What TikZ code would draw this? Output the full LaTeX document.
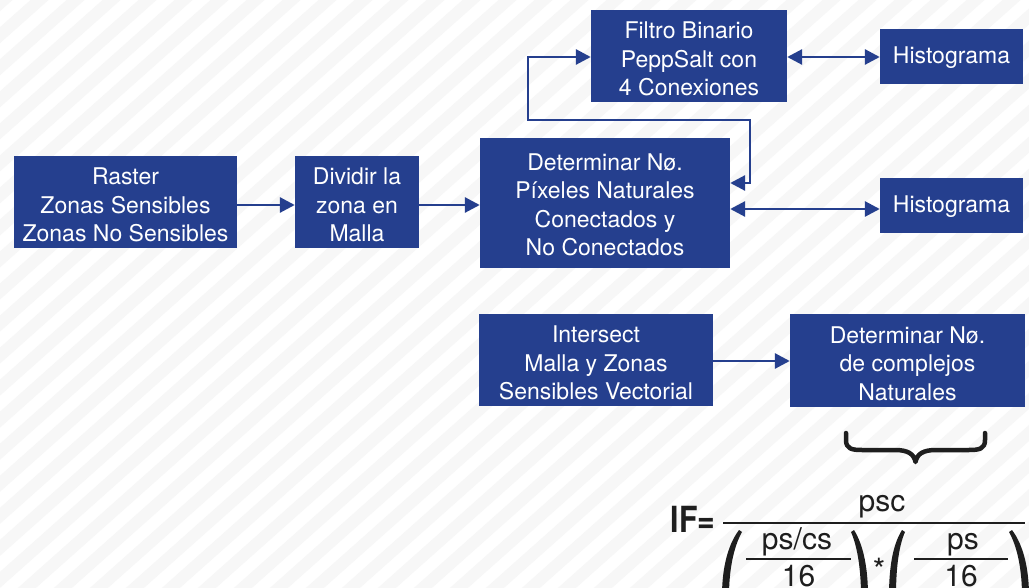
\documentclass[tikz,border=0pt]{standalone}
\usepackage{fontspec}
\setmainfont{TeX Gyre Heros}
\usetikzlibrary{arrows.meta}
\definecolor{boxblue}{HTML}{253F8E}
\definecolor{stripegray}{HTML}{F7F7F7}
\definecolor{ink}{HTML}{1E1E1E}
\begin{document}
\begin{tikzpicture}[x=1pt,y=-1pt,
  box/.style={fill=boxblue, inner sep=0pt},
  boxtext/.style={text=white, inner sep=0pt, align=center,
    font=\fontsize{23}{28.5}\selectfont},
  conn/.style={draw=boxblue, line width=2.9pt},
  onetip/.style={-{Triangle[length=15pt,width=15pt]}},
  twotip/.style={{Triangle[length=15pt,width=15pt]}-{Triangle[length=15pt,width=15pt]}},
  ftext/.style={text=ink, inner sep=0pt, anchor=base, font=\fontsize{30}{30}\selectfont},
  fbar/.style={draw=ink, line width=2.6pt},
  stripe/.style={draw=stripegray, line width=12pt}]
\useasboundingbox (0,0) rectangle (1029,588);
\clip (0,0) rectangle (1029,588);
\fill[white] (0,0) rectangle (1029,588);
\foreach \i in {-2,...,60} \draw[stripe] (26+\i*36,-20) -- ++(-1100,979);

% boxes
\node[box, minimum width=223pt, minimum height=92pt] (raster) at (125.5,202) {};
\node[box, minimum width=124pt, minimum height=92pt] (dividir) at (357,202) {};
\node[box, minimum width=250pt, minimum height=130pt] (det) at (605,203) {};
\node[box, minimum width=196pt, minimum height=92pt] (filtro) at (689,56) {};
\node[box, minimum width=143pt, minimum height=55pt] (histA) at (951.5,56.5) {};
\node[box, minimum width=143pt, minimum height=55pt] (histB) at (951.5,205.5) {};
\node[box, minimum width=234pt, minimum height=92pt] (inter) at (596,360) {};
\node[box, minimum width=235pt, minimum height=93pt] (det2) at (907.5,360.5) {};

% box texts
\node[boxtext] (rasterT) at ([yshift=-3pt]raster.center) {Raster\\Zonas Sensibles\\Zonas No Sensibles};
\node[boxtext] (dividirT) at ([yshift=-3pt]dividir.center) {Dividir la\\zona en\\Malla};
\node[boxtext] (detT) at ([yshift=-2pt]det.center) {Determinar Nø.\\Píxeles Naturales\\Conectados y\\No Conectados};
\node[boxtext] (filtroT) at ([yshift=-3pt]filtro.center) {Filtro Binario\\PeppSalt con\\4 Conexiones};
\node[boxtext] (histAT) at ([yshift=-1pt]histA.center) {Histograma};
\node[boxtext] (histBT) at ([yshift=-1pt]histB.center) {Histograma};
\node[boxtext] (interT) at ([yshift=-3pt]inter.center) {Intersect\\Malla y Zonas\\Sensibles Vectorial};
\node[boxtext] (det2T) at ([yshift=-3pt]det2.center) {Determinar Nø.\\de complejos\\Naturales};

% connectors
\draw[conn, onetip] (raster.east |- 0,205) -- (dividir.west |- 0,205);
\draw[conn, onetip] (dividir.east |- 0,205) -- (det.west |- 0,205);
\draw[conn, twotip] (filtro.east |- 0,57) -- (histA.west |- 0,57);
\draw[conn, twotip] (det.east |- 0,209) -- (histB.west |- 0,209);
\draw[conn, twotip] (det.east |- 0,183) -- (750,183) -- (750,120) -- (528,120) -- (528,57) -- (filtro.west |- 0,57);
\draw[conn, onetip] (inter.east |- 0,361) -- (det2.west |- 0,361);

% brace
\draw[draw=ink, line width=4.5pt, line cap=round, line join=round]
  (846,433) -- (846,440) .. controls (846,449) and (852,450) .. (862,450) -- (895,450)
  .. controls (908,450) and (914,454) .. (915.5,462)
  .. controls (917,454) and (923,450) .. (936,450) -- (969,450)
  .. controls (979,450) and (985,449) .. (985,440) -- (985,433);

% formula
\node[text=ink, inner sep=0pt, anchor=base, font=\bfseries\fontsize{36}{36}\selectfont] (iflab) at (693,532) {\scalebox{0.84}[1]{IF=}};
\draw[fbar] (723,523) -- (1025,523);
\node[ftext] (psc) at (882,511) {psc};
\node[ftext] (pscs) at (797,549) {ps/cs};
\draw[fbar] (746,559) -- (851,559);
\node[ftext] (sixA) at (798.5,586) {16};
\node[ftext, font=\fontsize{32}{32}\selectfont] (star) at (879,581) {*};
\node[ftext] (ps) at (963,549) {ps};
\draw[fbar] (914,559) -- (1008,559);
\node[ftext] (sixB) at (961,586) {16};
% parentheses (tapered)
\fill[ink] (739,530) .. controls (727,546) and (722,570) .. (722,596) .. controls (722,622) and (727,646) .. (739,662)
  -- (742,660) .. controls (733,644) and (729,620) .. (729,596) .. controls (729,572) and (733,548) .. (742,532) -- cycle;
\fill[ink] (854,530) .. controls (864,546) and (868,570) .. (868,596) .. controls (868,622) and (864,646) .. (854,662)
  -- (851,660) .. controls (858,644) and (861,620) .. (861,596) .. controls (861,572) and (858,548) .. (851,532) -- cycle;
\fill[ink] (902,530) .. controls (892,546) and (889,570) .. (889,596) .. controls (889,622) and (892,646) .. (902,662)
  -- (905,660) .. controls (898,644) and (896,620) .. (896,596) .. controls (896,572) and (898,548) .. (905,532) -- cycle;
\fill[ink] (1012,530) .. controls (1024,546) and (1029,570) .. (1029,596) .. controls (1029,622) and (1024,646) .. (1012,662)
  -- (1009,660) .. controls (1018,644) and (1022,620) .. (1022,596) .. controls (1022,572) and (1018,548) .. (1009,532) -- cycle;
\end{tikzpicture}
\end{document}
